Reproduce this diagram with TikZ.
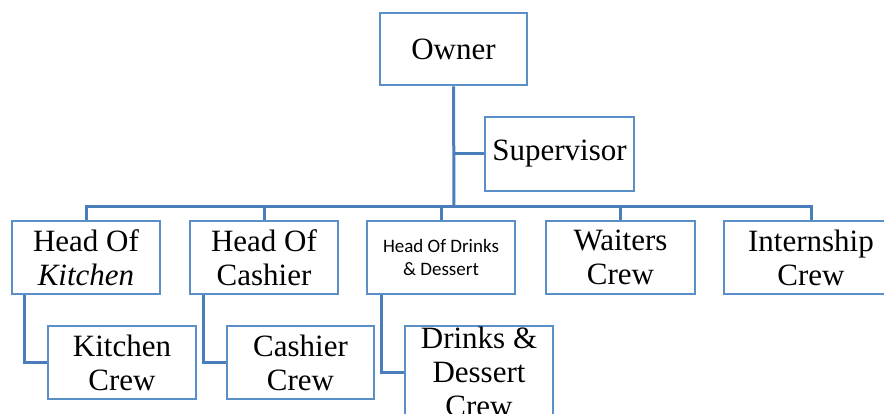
\documentclass[tikz,border=0pt]{standalone}
\usepackage{fontspec}
\setmainfont{Liberation Serif}
\newfontfamily\calfont{Carlito}
\usetikzlibrary{calc}
\definecolor{boxblue}{HTML}{5B8FC7}
\definecolor{linkblue}{HTML}{4A7EBB}
\begin{document}
\begin{tikzpicture}[x=1pt,y=-1pt,
  box/.style={draw=boxblue,line width=2.6pt,fill=white,align=center,inner sep=0pt,
    font=\fontsize{31}{34}\selectfont,minimum width=148,minimum height=73},
  link/.style={draw=linkblue,line width=3pt}]
\useasboundingbox (0,0) rectangle (884,414);
\clip (0,0) rectangle (884,414);
% nodes
\node[box,minimum width=147,minimum height=72] (own) at (453.5,49) {Owner};
\node[box,minimum width=149,minimum height=74] (sup) at (559.5,154) {Supervisor};
\node[box] (hk) at (86,257.5) {Head Of\\\itshape Kitchen};
\node[box] (hc) at (264,257.5) {Head Of\\Cashier};
\node[box,font=\calfont\fontsize{19}{23}\selectfont] (hd) at (441,257.5) {Head Of Drinks\\\& Dessert};
\node[box,minimum width=149] (wc) at (620.5,257.5) {Waiters\\Crew};
\node[box,minimum width=174] (ic) at (811,257.5) {Internship\\Crew};
\node[box] (kc) at (122,362.5) {Kitchen\\Crew};
\node[box,minimum width=147] (cc) at (300.5,362.5) {Cashier\\Crew};
\node[box,minimum height=92] (dc) at (479,372) {Drinks \&\\Dessert\\Crew};
% bus
\coordinate (bus) at (454,207);
% connectors
\draw[link] (own.south) -- (bus);
\draw[link] (sup.west) -- (sup.west -| own.south);
\draw[link] (hk.north) |- (bus) -| (ic.north);
\draw[link] (hc.north) -- (hc.north |- bus);
\draw[link] (hd.north) -- (hd.north |- bus);
\draw[link] (wc.north) -- (wc.north |- bus);
\draw[link] ([xshift=14]hk.south west) |- (kc.west);
\draw[link] ([xshift=15]hc.south west) |- (cc.west);
\draw[link] ([xshift=16]hd.south west) |- (dc.west);
\end{tikzpicture}
\end{document}
